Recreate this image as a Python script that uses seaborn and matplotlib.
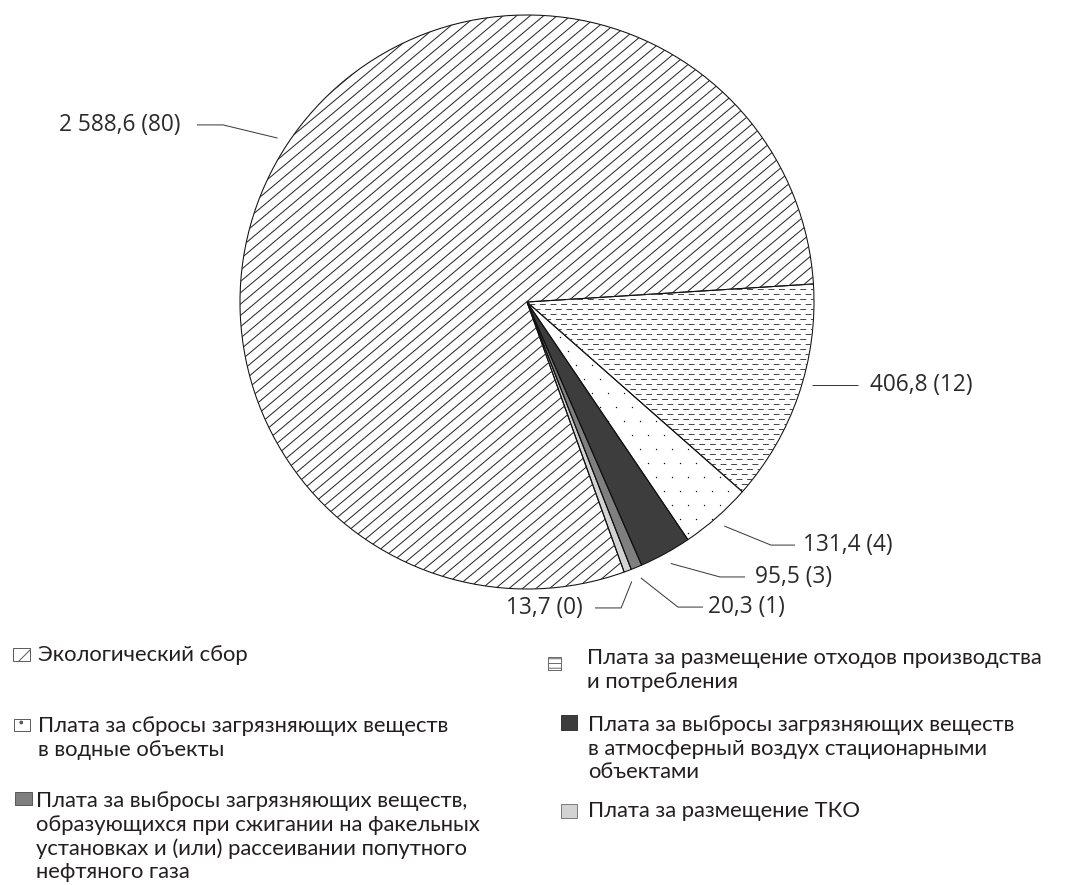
import numpy as np
import matplotlib
matplotlib.use("Agg")
import matplotlib.pyplot as plt
import seaborn as sns
from matplotlib.patches import Rectangle
from matplotlib.collections import LineCollection

# ---- data -------------------------------------------------------------
categories = [
    "Экологический сбор",
    "Плата за размещение отходов производства\nи потребления",
    "Плата за сбросы загрязняющих веществ\nв водные объекты",
    "Плата за выбросы загрязняющих веществ\nв атмосферный воздух стационарными\nобъектами",
    "Плата за выбросы загрязняющих веществ,\nобразующихся при сжигании на факельных\nустановках и (или) рассеивании попутного\nнефтяного газа",
    "Плата за размещение ТКО",
]
values = [2588.6, 406.8, 131.4, 95.5, 20.3, 13.7]
shares = [80, 12, 4, 3, 1, 0]

# ---- styling ----------------------------------------------------------
sns.set_theme(style="white")
plt.rcParams["hatch.linewidth"] = 0.8
plt.rcParams["lines.scale_dashes"] = False
label_font = ["Open Sans", "DejaVu Sans"]
legend_font = ["Lato", "DejaVu Sans"]

fills = ["white", "white", "white", "#3d3d3d", "#7f7f7f", "#d3d3d3"]

W, H, DPI = 1070, 885, 85
R_PX = 287.0                 # pie radius in pixels
CX, CY = 527.0, 302.0        # pie centre in pixels

fig = plt.figure(figsize=(W / DPI, H / DPI), dpi=DPI)
fig.patch.set_facecolor("white")
ax = fig.add_axes([0, 0, 1, 1])

def fmt(v):
    return f"{v:,.1f}".replace(",", " ").replace(".", ",")

first_edge = 3.6
start = first_edge + 360.0 * values[0] / sum(values)

# filled wedges
wedges, _ = ax.pie(values, colors=fills, startangle=start,
                   counterclock=False, wedgeprops=dict(linewidth=0))

px = 1.0 / R_PX  # one pixel in data units

# diagonal line texture for the ecological fee slice
ang = np.deg2rad(40)
d = np.array([np.cos(ang), np.sin(ang)])
segs = [[(c - 3 * d[0], -3 * d[1]), (c + 3 * d[0], 3 * d[1])]
        for c in np.arange(-4.0, 4.0, 13.5 * px)]
lc = LineCollection(segs, colors="#262626", linewidths=0.85)
ax.add_collection(lc)
lc.set_clip_path(wedges[0])

# dashed horizontal texture for the waste slice
rows = np.arange(-1.0, 1.0, 5.0 * px)
for k, off in enumerate((0.0, 4.5)):
    segs = [[(-1.05, y), (1.05, y)] for y in rows[k::2]]
    dl = LineCollection(segs, colors="#404040", linewidths=0.8,
                        linestyles=[(off, (5.0, 4.0))])
    ax.add_collection(dl)
    dl.set_clip_path(wedges[1])

# sparse dot texture for the water discharge slice
gx, gy = np.meshgrid(np.arange(-1.0, 1.0, 16 * px), np.arange(-1.0, 1.0, 14 * px))
gx = gx + (np.arange(gx.shape[0])[:, None] % 2) * 8 * px
dots = ax.scatter(gx.ravel(), gy.ravel(), s=1.4, color="#111111", linewidths=0)
dots.set_clip_path(wedges[2])

# outlines
ax.pie(values, colors=["none"] * len(values), startangle=start,
       counterclock=False,
       wedgeprops=dict(linewidth=0.9, edgecolor="#111111", fill=False))

# ---- value labels with leader lines -------------------------------------
label_xy = [(-1.209, 0.617), (1.195, -0.289), (0.962, -0.847),
            (0.794, -0.958), (0.631, -1.063), (0.195, -1.066)]
label_ha = ["right", "left", "left", "left", "left", "right"]
elbow_x = [-1.059, None, 0.850, 0.672, 0.526, 0.328]
end_x = [-1.150, 1.153, 0.934, 0.760, 0.613, 0.237]

for i, w in enumerate(wedges):
    tx, ty = label_xy[i]
    if elbow_x[i] is None:
        sx = np.sqrt(1.035 ** 2 - ty ** 2)
        pts = [(sx, ty), (end_x[i], ty)]
    else:
        mid = np.deg2rad((w.theta1 + w.theta2) / 2.0)
        sx, sy = 1.04 * np.cos(mid), 1.04 * np.sin(mid)
        pts = [(sx, sy), (elbow_x[i], ty), (end_x[i], ty)]
    xs, ys = zip(*pts)
    ax.plot(xs, ys, color="#3a3a3a", lw=0.85, solid_capstyle="butt")
    ax.text(tx, ty, f"{fmt(values[i])} ({shares[i]})", ha=label_ha[i],
            va="center", fontsize=19.2, color="#2b2b2b", family=label_font)

ax.set_xlim(-CX / R_PX, (W - CX) / R_PX)
ax.set_ylim((CY - H) / R_PX, CY / R_PX)
ax.set_aspect("equal")
ax.axis("off")

# ---- legend (two columns) ---------------------------------------------
def fx(p):
    return p / W

def fy(p):
    return 1.0 - p / H

leg_items = [
    # (index, marker box x0, y0, x1, y1, text x, first line centre y)
    (0, 13, 648, 30, 661, 38, 654),
    (1, 548, 657, 561, 670, 587, 657),
    (2, 14, 719, 30, 731, 38, 725),
    (3, 561, 715, 577, 730, 588, 724),
    (4, 15, 792, 32, 805, 36, 800),
    (5, 561, 804, 577, 818, 588, 810),
]
leg_hatch = ["/", "---", ".", "", "", ""]
leg_edge = ["#555555", "#666666", "#555555", "#333333", "#555555", "#777777"]

for idx, x0, y0, x1, y1, tx, ty in leg_items:
    box = Rectangle((fx(x0), fy(y1)), fx(x1) - fx(x0), fy(y0) - fy(y1),
                    transform=fig.transFigure, facecolor=fills[idx],
                    edgecolor=leg_edge[idx], hatch=leg_hatch[idx], lw=0.8)
    fig.add_artist(box)
    fig.text(fx(tx), fy(ty - 9), categories[idx], ha="left", va="top",
             fontsize=18.6, color="#231f20", family=legend_font,
             linespacing=1.22)

fig.savefig("out.png", dpi=DPI, facecolor="white")
